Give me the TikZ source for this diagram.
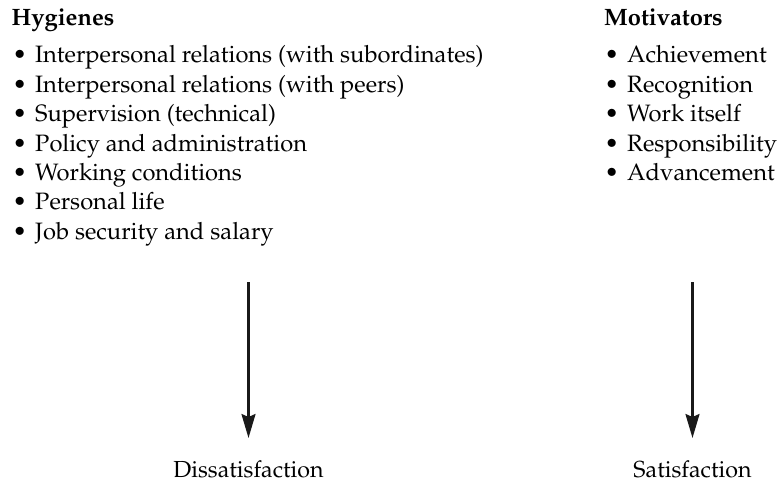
\documentclass[tikz,border=0pt]{standalone}
\usepackage[T1]{fontenc}
\usepackage{textcomp}
\renewcommand{\rmdefault}{ppl}
\usetikzlibrary{arrows.meta}
\begin{document}
\begin{tikzpicture}[x=1pt,y=-1pt,
  txt/.style={inner sep=0pt,anchor=base west,font=\fontsize{23.7}{28}\selectfont},
  head/.style={txt,font=\fontsize{23.7}{28}\selectfont\bfseries},
  bul/.style={inner sep=0pt,anchor=base west,font=\fontsize{23.7}{28}\selectfont},
  lbl/.style={inner sep=0pt,anchor=base,font=\fontsize{23.2}{28}\selectfont},
  flow/.style={line width=2.2pt,draw=black!90,-{Stealth[length=24pt,width=14pt,inset=3pt]}}]
\useasboundingbox (0,0) rectangle (780,484);

% Hygiene factors
\node[head] (hyg) at (11.5,26) {Hygienes};
\foreach \i/\t in {1/Interpersonal relations (with subordinates),
                   2/Interpersonal relations (with peers),
                   3/Supervision (technical),
                   4/Policy and administration,
                   5/Working conditions,
                   6/Personal life,
                   7/Job security and salary}{
  \node[bul] (hb\i) at (12.5,{63+29.4*(\i-1)}) {\textbullet};
  \node[txt] (h\i) at (35,{63+29.4*(\i-1)}) {\t};
}

% Motivators
\node[head] (mot) at (604,26) {Motivators};
\foreach \i/\t in {1/Achievement,2/Recognition,3/Work itself,
                   4/Responsibility,5/Advancement}{
  \node[bul] (mb\i) at (604.5,{63+29.4*(\i-1)}) {\textbullet};
  \node[txt] (m\i) at (627,{63+29.4*(\i-1)}) {\t};
}

% Outcomes
\node[lbl] (dis) at (248.5,477) {Dissatisfaction};
\node[lbl] (sat) at (692.5,477) {Satisfaction};
\coordinate (ds) at (248.5,282);
\coordinate (ss) at (692.5,282);
\draw[flow] (ds) -- (248.5,438) coordinate (de);
\draw[flow] (ss) -- (692.5,438) coordinate (se);
\end{tikzpicture}
\end{document}
